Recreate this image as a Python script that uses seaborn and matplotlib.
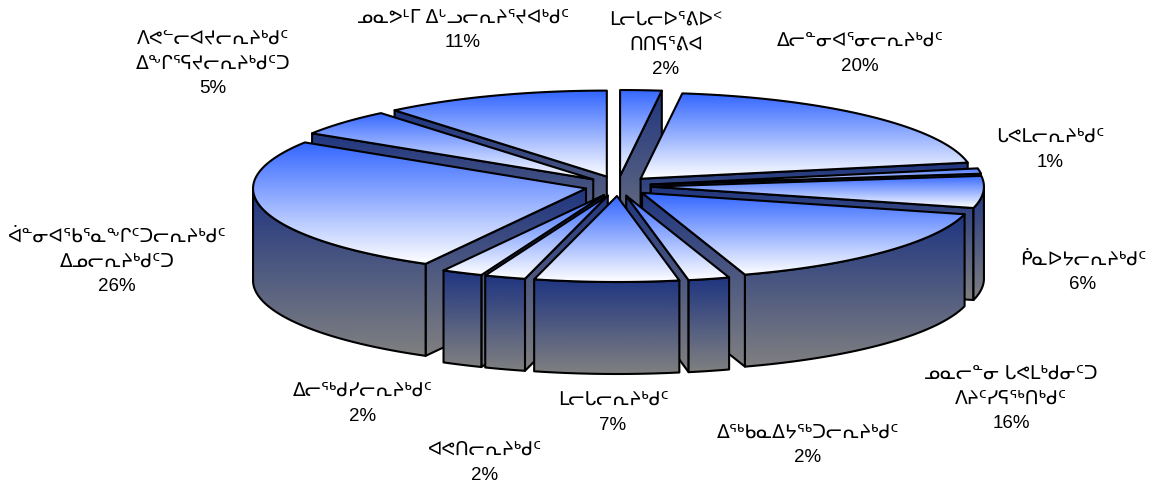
import numpy as np
import matplotlib
matplotlib.use("Agg")
import matplotlib.pyplot as plt
from matplotlib.patches import Polygon
import seaborn as sns

# ---- Data (clockwise from 12 o'clock) ----
labels = [
    "ᒪᓕᒐᓕᐅᕐᕕᐅᑉ\nᑎᑎᕋᕐᕕᐊ",
    "ᐃᓕᓐᓂᐊᕐᓂᓕᕆᔨᒃᑯᑦ",
    "ᒐᕙᒪᓕᕆᔨᒃᑯᑦ",
    "ᑮᓇᐅᔭᓕᕆᔨᒃᑯᑦ",
    "ᓄᓇᓕᓐᓂ ᒐᕙᒪᒃᑯᓂᑦᑐ\nᐱᔨᑦᓯᕋᖅᑎᒃᑯᑦ",
    "ᐃᖅᑲᓇᐃᔭᖅᑐᓕᕆᔨᒃᑯᑦ",
    "ᒪᓕᒐᓕᕆᔨᒃᑯᑦ",
    "ᐊᕙᑎᓕᕆᔨᒃᑯᑦ",
    "ᐃᓕᖅᑯᓯᓕᕆᔨᒃᑯᑦ",
    "ᐋᓐᓂᐊᕐᑲᕐᓇᖕᒋᑦᑐᓕᕆᔨᒃᑯᑦ\nᐃᓄᓕᕆᔨᒃᑯᑦᑐ",
    "ᐱᕙᓪᓕᐊᔪᓕᕆᔨᒃᑯᑦ\nᐃᖕᒋᕐᕋᔪᓕᕆᔨᒃᑯᑦᑐ",
    "ᓄᓇᕗᒻᒥ ᐃᒡᓗᓕᕆᔨᕐᔪᐊᒃᑯᑦ",
]
values = [2, 20, 1, 6, 16, 2, 7, 2, 2, 26, 5, 11]

# label centres in pixels
label_x = [666, 860, 1050, 1083, 1011, 808, 613, 485, 363, 117, 213, 463]
label_y = [45, 54, 150, 272, 399, 445, 413, 463, 404, 262, 64, 30]

# ---- Pie geometry in pixels ----
CX, CY = 618, 186
RX, RY = 333, 86
DEPTH = 92
EXPLODE_X, EXPLODE_Y = 33, 10

sns.set_theme(style="white")
plt.rcParams["font.family"] = ["Liberation Sans", "DejaVu Sans"]

top_cmap = sns.blend_palette(["#3366ff", "#ffffff"], as_cmap=True)
wall_cmap = sns.blend_palette(["#1f3580", "#808080"], as_cmap=True)

fig = plt.figure(figsize=(11.5, 4.86), dpi=100)
ax = fig.add_axes([0, 0, 1, 1])
ax.set_xlim(0, 1150)
ax.set_ylim(486, 0)
ax.axis("off")

zorder = [10]


def draw_face(points, cmap):
    # vertical gradient over the face's bounding box, clipped to the face
    points = np.array(points)
    x0, x1 = points[:, 0].min(), points[:, 0].max()
    y0, y1 = points[:, 1].min(), points[:, 1].max()
    gradient = np.linspace(0, 1, 256).reshape(-1, 1)
    img = ax.imshow(gradient, cmap=cmap, extent=(x0, x1, y1, y0), aspect="auto",
                    interpolation="bilinear", vmin=0, vmax=1, zorder=zorder[0])
    clip = Polygon(points, closed=True, transform=ax.transData)
    img.set_clip_path(clip)
    ax.add_patch(Polygon(points, closed=True, fill=False, edgecolor="black",
                         linewidth=1.5, joinstyle="round", zorder=zorder[0] + 1))
    zorder[0] += 2


def rim(ox, oy, angles):
    return np.column_stack([ox + RX * np.sin(angles), oy - RY * np.cos(angles)])


edges = np.radians(np.cumsum([0] + values) * 3.6)
slices = [(edges[i], edges[i + 1]) for i in range(len(values))]
# painter's order, back slices first
order = sorted(range(len(values)), key=lambda i: -np.cos(sum(slices[i]) / 2))

for i in order:
    t1, t2 = slices[i]
    mid = (t1 + t2) / 2
    ox = CX + EXPLODE_X * np.sin(mid)
    oy = CY - EXPLODE_Y * np.cos(mid)
    arc = rim(ox, oy, np.linspace(t1, t2, 80))
    down = np.array([0, DEPTH])
    apex = np.array([ox, oy])

    # cut faces along the radius
    if np.pi < t1 % (2 * np.pi) < 2 * np.pi:
        draw_face([apex, arc[0], arc[0] + down, apex + down], wall_cmap)
    if 0 < t2 % (2 * np.pi) < np.pi:
        draw_face([apex, arc[-1], arc[-1] + down, apex + down], wall_cmap)

    # outer curved face, only the front half shows
    w1, w2 = max(t1, np.pi / 2), min(t2, 3 * np.pi / 2)
    if w2 > w1:
        front = rim(ox, oy, np.linspace(w1, w2, 80))
        draw_face(np.vstack([front, front[::-1] + down]), wall_cmap)

    draw_face(np.vstack([apex, arc]), top_cmap)

for name, val, x, y in zip(labels, values, label_x, label_y):
    ax.text(x, y, f"{name}\n{val}%", ha="center", va="center", fontsize=13.5,
            linespacing=1.58, color="black", zorder=500)

fig.savefig("out.png", dpi=100, facecolor="white")
